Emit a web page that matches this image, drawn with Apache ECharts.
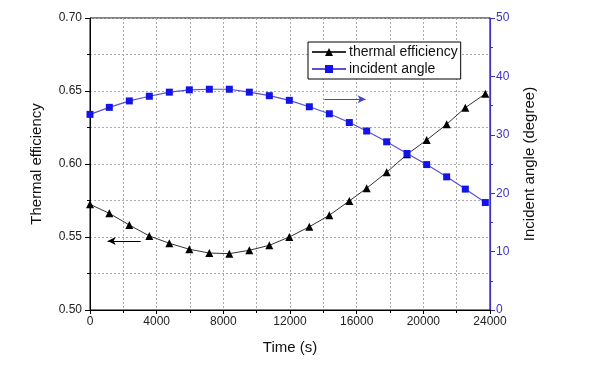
<!DOCTYPE html>
<html>
<head>
<meta charset="utf-8">
<script src="https://cdn.jsdelivr.net/npm/echarts@6/dist/echarts.min.js"></script>
<style>html,body{margin:0;padding:0;background:#fff}#c{width:600px;height:367px}</style>
</head>
<body>
<div id="c"></div>
<script>
const timeS = [0, 1160, 2360, 3560, 4760, 5960, 7160, 8360, 9560, 10760, 11960, 13160, 14360, 15560, 16600, 17800, 19020, 20200, 21400, 22520, 23720];
const efficiency = [0.5724, 0.5662, 0.5582, 0.5507, 0.5457, 0.5416, 0.5390, 0.5386, 0.5409, 0.5443, 0.5500, 0.5570, 0.5649, 0.5747, 0.5834, 0.5943, 0.6066, 0.6164, 0.6272, 0.6386, 0.6481];
const angle = [33.5, 34.7, 35.8, 36.6, 37.3, 37.7, 37.8, 37.8, 37.3, 36.7, 35.9, 34.8, 33.6, 32.1, 30.65, 28.8, 26.8, 24.9, 22.8, 20.7, 18.4];
const seriesNames = ['thermal efficiency', 'incident angle'];
const leftArrow = [[3040, 0.5473], [1060, 0.5473]];
const rightArrow = [[14060, 36.1], [16540, 36.1]];

const FONT = '"Liberation Sans", Arial, sans-serif';
const BLUE = '#3c32c8';
const chart = echarts.init(document.getElementById('c'));
const pair = (xs, ys) => xs.map((x, i) => [x, ys[i]]);

chart.setOption({
  animation: false,
  textStyle: { fontFamily: FONT },
  grid: { left: 90, right: 110, top: 18, bottom: 57, show: true, borderColor: '#000', borderWidth: 1 },
  legend: {
    orient: 'vertical', left: 308, top: 42,
    backgroundColor: '#fff', borderColor: '#000', borderWidth: 1,
    padding: [3, 3, 3, 3], itemGap: 3, itemWidth: 34, itemHeight: 10,
    textStyle: { fontFamily: FONT, fontSize: 14, color: '#111', padding: [0, 0, 0, -2] },
    data: seriesNames
  },
  xAxis: {
    type: 'value', min: 0, max: 24000, interval: 4000,
    name: 'Time (s)', nameLocation: 'middle', nameGap: 30,
    nameTextStyle: { fontFamily: FONT, fontSize: 15, color: '#111' },
    axisLine: { lineStyle: { color: '#000' } },
    axisTick: { show: true, length: 4, lineStyle: { color: '#000' } },
    minorTick: { show: true, splitNumber: 2, length: 3, lineStyle: { color: '#000' } },
    axisLabel: { fontFamily: FONT, fontSize: 12, color: '#222', margin: 6, formatter: v => String(v) },
    splitLine: { show: true, lineStyle: { color: '#aaa', type: [2, 2], width: 1 } },
    minorSplitLine: { show: true, lineStyle: { color: '#aaa', type: [2, 2], width: 1 } }
  },
  yAxis: [{
    type: 'value', min: 0.5, max: 0.7, interval: 0.05,
    name: 'Thermal efficiency', nameLocation: 'middle', nameGap: 46,
    nameTextStyle: { fontFamily: FONT, fontSize: 15, color: '#111' },
    axisLine: { show: true, lineStyle: { color: '#000' } },
    axisTick: { show: true, length: 5, lineStyle: { color: '#000' } },
    minorTick: { show: true, splitNumber: 2, length: 3, lineStyle: { color: '#000' } },
    axisLabel: { fontFamily: FONT, fontSize: 12, color: '#222', margin: 8, formatter: v => v.toFixed(2) },
    splitLine: { show: true, lineStyle: { color: '#aaa', type: [2, 2], width: 1 } },
    minorSplitLine: { show: true, lineStyle: { color: '#aaa', type: [2, 2], width: 1 } }
  }, {
    type: 'value', min: 0, max: 50, interval: 10, position: 'right',
    name: 'Incident angle (degree)', nameLocation: 'middle', nameGap: 32,
    nameTextStyle: { fontFamily: FONT, fontSize: 15, color: '#111' },
    axisLine: { show: true, lineStyle: { color: BLUE, width: 1.2 } },
    axisTick: { show: true, length: 5, lineStyle: { color: BLUE } },
    minorTick: { show: true, splitNumber: 2, length: 3, lineStyle: { color: BLUE } },
    axisLabel: { fontFamily: FONT, fontSize: 12, color: BLUE, margin: 6 },
    splitLine: { show: false }
  }],
  series: [{
    name: seriesNames[0], type: 'line', yAxisIndex: 0,
    data: pair(timeS, efficiency),
    symbol: 'triangle', symbolSize: 8,
    itemStyle: { color: '#000' },
    lineStyle: { color: '#333', width: 1 },
    markLine: {
      silent: true, symbol: ['none', 'arrow'], symbolSize: [6, 8],
      label: { show: false },
      lineStyle: { color: '#000', width: 1, type: 'solid' },
      data: [[{ coord: leftArrow[0] }, { coord: leftArrow[1] }]]
    }
  }, {
    name: seriesNames[1], type: 'line', yAxisIndex: 1,
    data: pair(timeS, angle),
    symbol: 'rect', symbolSize: 7,
    itemStyle: { color: '#1414e6' },
    lineStyle: { color: '#5a50d2', width: 1.2 },
    markLine: {
      silent: true, symbol: ['none', 'arrow'], symbolSize: [6, 8],
      label: { show: false },
      lineStyle: { color: '#4a40d0', width: 1, type: 'solid' },
      data: [[{ coord: rightArrow[0] }, { coord: rightArrow[1] }]]
    }
  }]
});
</script>
</body>
</html>
